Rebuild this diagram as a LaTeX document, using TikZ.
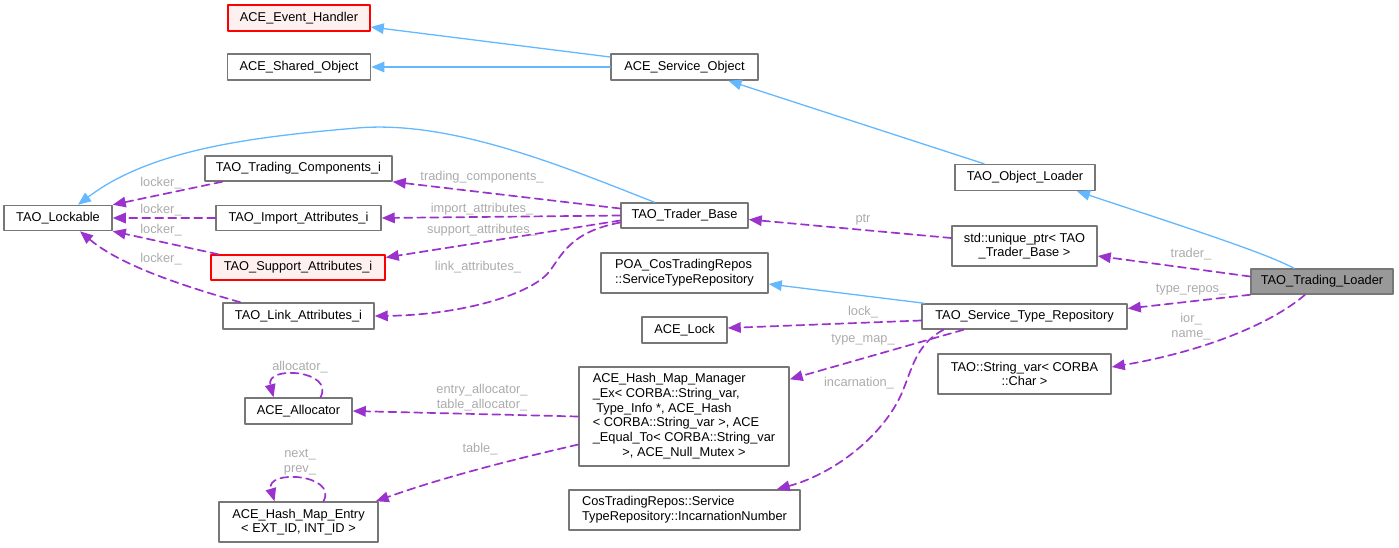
\documentclass[tikz,border=0pt]{standalone}
\usepackage{fontspec}
\setmainfont{Liberation Sans}
\usetikzlibrary{arrows.meta}
\definecolor{inhblue}{HTML}{63B8FF}
\definecolor{mempurple}{HTML}{9A32CD}
\definecolor{boxgrey}{HTML}{777777}
\definecolor{labgrey}{HTML}{ABABAB}
\definecolor{redfill}{HTML}{FFF0F0}
\definecolor{mainfill}{HTML}{999999}
\begin{document}
\begin{tikzpicture}[x=1pt,y=-1pt,line cap=round,line join=round,
  >={Triangle[length=13pt,width=10.5pt]},
  font=\fontsize{12.8}{14.7}\selectfont,
  cls/.style={draw=boxgrey,line width=1.5pt,fill=white,inner sep=0pt,align=center},
  clsred/.style={cls,draw=red,fill=redfill},
  inherit/.style={->,color=inhblue,line width=1.3pt},
  member/.style={->,color=mempurple,line width=1.7pt,dash pattern=on 8pt off 5pt},
  lab/.style={text=labgrey,inner sep=0pt,align=center}]
\useasboundingbox (0,0) rectangle (1399,547);
% classes
\node[clsred,minimum width=142pt,minimum height=26pt] (evh) at (299,18) {ACE\_Event\_Handler};
\node[cls,minimum width=143pt,minimum height=26pt] (shobj) at (299,67) {ACE\_Shared\_Object};
\node[cls,minimum width=147pt,minimum height=26pt] (svcobj) at (684.5,67) {ACE\_Service\_Object};
\node[cls,minimum width=108pt,minimum height=25pt] (lockable) at (58,218) {TAO\_Lockable};
\node[cls,minimum width=187pt,minimum height=25pt] (tradcomp) at (298.5,168.5) {TAO\_Trading\_Components\_i};
\node[cls,minimum width=165pt,minimum height=25pt] (impattr) at (298.5,218) {TAO\_Import\_Attributes\_i};
\node[clsred,minimum width=174pt,minimum height=25pt] (supattr) at (298,267.5) {TAO\_Support\_Attributes\_i};
\node[cls,minimum width=151pt,minimum height=26pt] (linkattr) at (298.5,316) {TAO\_Link\_Attributes\_i};
\node[cls,minimum width=127pt,minimum height=25pt] (traderbase) at (684.5,215.5) {TAO\_Trader\_Base};
\node[cls,minimum width=140pt,minimum height=26pt] (objloader) at (1025,177.5) {TAO\_Object\_Loader};
\node[cls,minimum width=145pt,minimum height=40pt] (uptr) at (1024.5,246) {std::unique\_ptr< TAO\\\_Trader\_Base >};
\node[cls,fill=mainfill,minimum width=142pt,minimum height=25pt] (loader) at (1322,281.5) {TAO\_Trading\_Loader};
\node[cls,align=left,minimum width=167pt,minimum height=40pt] (poa) at (684.5,273) {POA\_CosTradingRepos\\::ServiceTypeRepository};
\node[cls,minimum width=85pt,minimum height=26pt] (acelock) at (684.5,330) {ACE\_Lock};
\node[cls,minimum width=205pt,minimum height=25pt] (str) at (1024.5,316.5) {TAO\_Service\_Type\_Repository};
\node[cls,minimum width=173pt,minimum height=40pt] (strvar) at (1024.5,374) {TAO::String\_var< CORBA\\::Char >};
\node[cls,minimum width=210pt,minimum height=99pt] (hmm) at (684,416.5) {\begin{tabular}{@{}l@{}}ACE\_Hash\_Map\_Manager\\\_Ex< CORBA::String\_var,\\\ Type\_Info *, ACE\_Hash\\< CORBA::String\_var >, ACE\\\_Equal\_To< CORBA::String\_var\\\multicolumn{1}{@{}c@{}}{>, ACE\_Null\_Mutex >}\end{tabular}};
\node[cls,align=left,minimum width=231pt,minimum height=40pt] (incnum) at (684.5,510) {CosTradingRepos::Service\\TypeRepository::IncarnationNumber};
\node[cls,minimum width=107pt,minimum height=26pt] (alloc) at (298.5,411) {ACE\_Allocator};
\node[cls,minimum width=159pt,minimum height=40pt] (hme) at (298.5,522) {ACE\_Hash\_Map\_Entry\\< EXT\_ID, INT\_ID >};
% inheritance
\draw[inherit] ([yshift=10pt]svcobj.west) -- ([yshift=-9pt]evh.east);
\draw[inherit] (svcobj.west) -- (shobj.east);
\draw[inherit] ([xshift=-41pt]objloader.north) -- ([xshift=44pt]svcobj.south);
\draw[inherit] ([xshift=-28pt]loader.north) .. controls (1265,253) and (1200,232) .. ([xshift=52pt]objloader.south);
\draw[inherit] ([xshift=-30pt]traderbase.north) .. controls (560,165) and (450,120) .. (357,128) .. controls (250,137) and (150,150) .. ([xshift=20pt]lockable.north);
\draw[inherit] ([xshift=3pt]str.north west) -- ([yshift=-11pt]poa.east);
% members
\draw[member] ([yshift=7pt]traderbase.west) -- (tradcomp.south east);
\draw[member] (traderbase.west) -- (impattr.east);
\draw[member] ([yshift=-5pt]traderbase.west) -- ([yshift=10pt]supattr.east);
\draw[member] ([yshift=-7pt]traderbase.west) .. controls (570,232) and (562,255) .. (549,272) .. controls (530,295) and (460,315) .. (linkattr.east);
\draw[member] ([xshift=18pt]tradcomp.south west) -- (lockable.north east);
\draw[member] (impattr.west) -- (lockable.east);
\draw[member] ([xshift=8pt]supattr.north west) -- (lockable.south east);
\draw[member] ([xshift=18pt]linkattr.north west) .. controls (180,285) and (120,265) .. ([xshift=22pt]lockable.south);
\draw[member] ([yshift=8pt]uptr.west) -- ([yshift=-4pt]traderbase.east);
\draw[member] ([yshift=5pt]loader.west) -- ([yshift=-10pt]uptr.east);
\draw[member] (loader.south west) -- ([yshift=8pt]str.east);
\draw[member] ([xshift=-17pt]loader.south) .. controls (1270,325) and (1200,352) .. ([yshift=7pt]strvar.east);
\draw[member] ([yshift=-4pt]str.west) -- ([yshift=2pt]acelock.east);
\draw[member] ([xshift=-61pt]str.south) -- ([yshift=-13pt]hmm.north east);
\draw[member] ([xshift=-81pt]str.south) .. controls (915,345) and (912,370) .. (901,395) .. controls (880,440) and (830,475) .. ([xshift=-24pt]incnum.north east);
\draw[member] (hmm.west) -- (alloc.east);
\draw[member] ([yshift=-28pt]hmm.west) .. controls (520,458) and (450,475) .. ([xshift=-3pt]hme.north east);
\draw[member] ([xshift=22pt]alloc.north) .. controls (335,370) and (265,365) .. ([xshift=-25pt]alloc.north);
\draw[member] ([xshift=25pt]hme.north) .. controls (338,474) and (265,469) .. ([xshift=-24pt]hme.north);
% labels
\node[lab] (l-lk1) at (161,183) {locker\_};
\node[lab] (l-lk2) at (161,210) {locker\_};
\node[lab] (l-lk3) at (161,230) {locker\_};
\node[lab] (l-lk4) at (161,259) {locker\_};
\node[lab] (l-tc) at (482,177) {trading\_components\_};
\node[lab] (l-ia) at (482,209) {import\_attributes\_};
\node[lab] (l-sa) at (482,230) {support\_attributes\_};
\node[lab] (l-la) at (478,267) {link\_attributes\_};
\node[lab] (l-ptr) at (863,220) {ptr};
\node[lab] (l-trd) at (1191,254) {trader\_};
\node[lab] (l-tr) at (1191,290) {type\_repos\_};
\node[lab] (l-ior) at (1191,326.5) {ior\_\\name\_};
\node[lab] (l-lock) at (863,312) {lock\_};
\node[lab] (l-tm) at (863,340) {type\_map\_};
\node[lab] (l-inc) at (859,383) {incarnation\_};
\node[lab] (l-al) at (300,367) {allocator\_};
\node[lab] (l-ea) at (482,397.5) {entry\_allocator\_\\table\_allocator\_};
\node[lab] (l-tb) at (480,449) {table\_};
\node[lab] (l-np) at (300,462.5) {next\_\\prev\_};
\end{tikzpicture}
\end{document}
